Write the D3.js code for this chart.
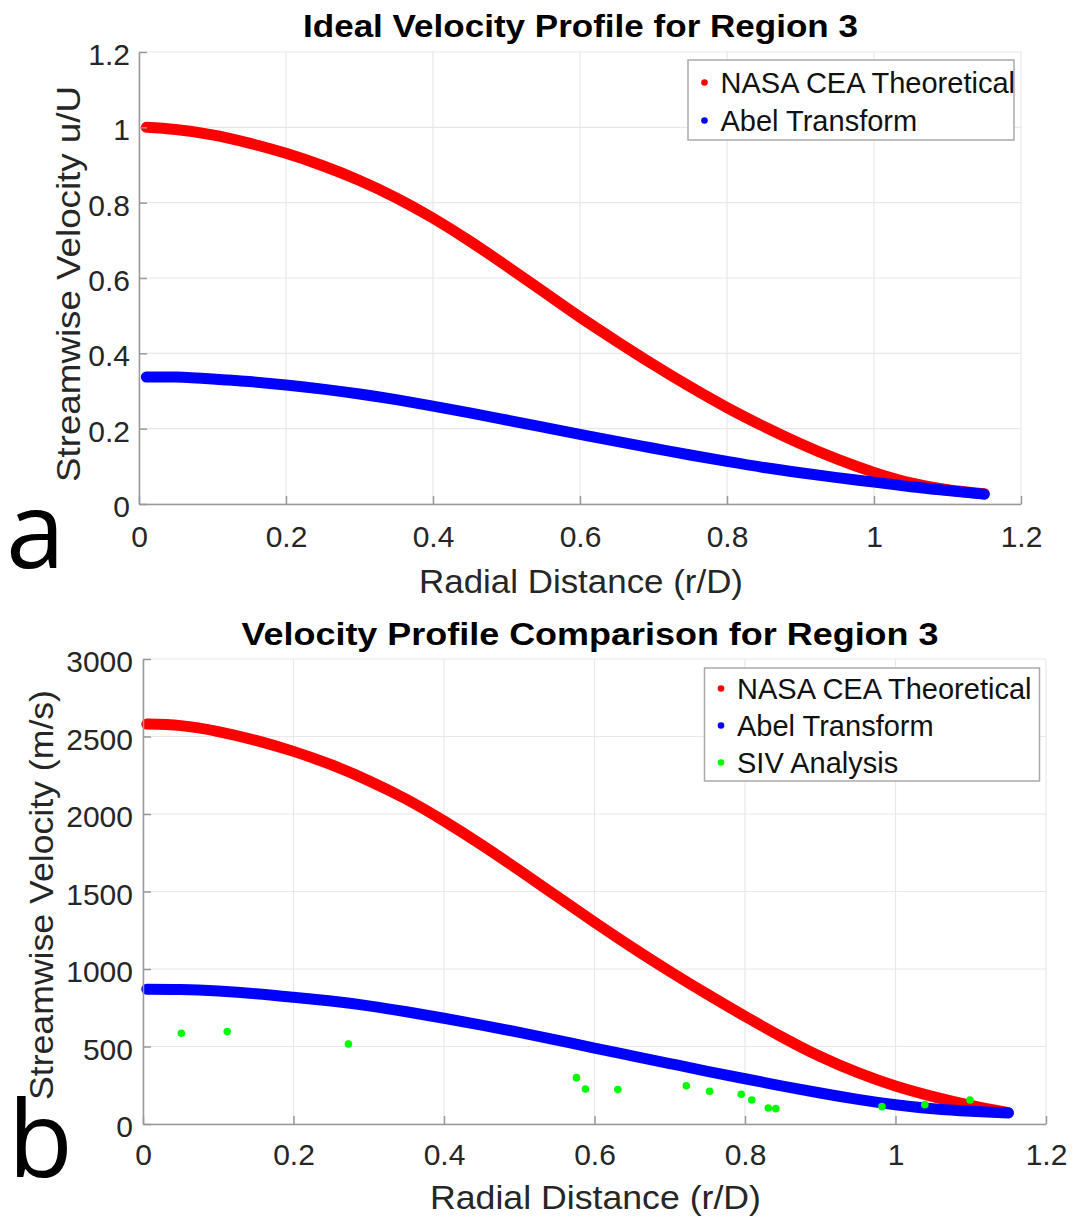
<!DOCTYPE html>
<html>
<head>
<meta charset="utf-8">
<script src="https://cdn.jsdelivr.net/npm/d3@7"></script>
<style>
  html, body { margin: 0; padding: 0; background: #fff; }
  svg { display: block; }
</style>
</head>
<body>
<svg id="fig" width="1077" height="1217"></svg>
<script>
// ---- Panel a: normalised velocity u/U against r/D ----
const radialA = [0.01, 0.05, 0.10, 0.15, 0.20, 0.25, 0.30, 0.35, 0.40, 0.45, 0.50, 0.55,
                 0.60, 0.65, 0.70, 0.75, 0.80, 0.85, 0.90, 0.95, 1.00, 1.05, 1.10, 1.15];
const ceaA  = [1.000, 0.994, 0.980, 0.958, 0.931, 0.898, 0.859, 0.813, 0.759, 0.698, 0.632, 0.564,
               0.496, 0.432, 0.370, 0.311, 0.256, 0.206, 0.160, 0.119, 0.084, 0.056, 0.038, 0.027];
const abelA = [0.337, 0.337, 0.332, 0.325, 0.316, 0.305, 0.292, 0.277, 0.260, 0.242, 0.223, 0.204,
               0.185, 0.166, 0.148, 0.130, 0.113, 0.097, 0.083, 0.070, 0.058, 0.046, 0.036, 0.026];

// ---- Panel b: velocity in m/s against r/D ----
const radialB = [0.005, 0.05, 0.10, 0.15, 0.20, 0.25, 0.30, 0.35, 0.40, 0.45, 0.50, 0.55,
                 0.60, 0.65, 0.70, 0.75, 0.80, 0.85, 0.90, 0.95, 1.00, 1.05, 1.10, 1.15];
const ceaB  = [2580, 2570, 2532, 2475, 2404, 2318, 2215, 2095, 1955, 1801, 1637, 1469,
               1302, 1140, 985, 837, 695, 559, 435, 331, 245, 177, 120, 73];
const abelB = [870, 868, 858, 841, 818, 793, 762, 724, 682, 638, 591, 541,
               490, 440, 390, 340, 292, 245, 200, 159, 124, 98, 82, 71];
const sivR  = [0.051, 0.112, 0.273, 0.576, 0.588, 0.631, 0.722, 0.753, 0.795, 0.809, 0.831, 0.841, 0.982, 1.039, 1.099];
const sivB  = [585, 596, 516, 299, 226, 222, 247, 211, 192, 155, 103, 99, 112, 125, 155];

// ---- Axis ticks ----
const xTicks = [0, 0.2, 0.4, 0.6, 0.8, 1.0, 1.2];
const xTickLabels = ["0", "0.2", "0.4", "0.6", "0.8", "1", "1.2"];
const yTicksA = [0, 0.2, 0.4, 0.6, 0.8, 1.0, 1.2];
const yTickLabelsA = ["0", "0.2", "0.4", "0.6", "0.8", "1", "1.2"];
const yTicksB = [0, 500, 1000, 1500, 2000, 2500, 3000];
const yTickLabelsB = ["0", "500", "1000", "1500", "2000", "2500", "3000"];

const seriesNames = ["NASA CEA Theoretical", "Abel Transform", "SIV Analysis"];
const seriesColors = ["#ff0000", "#0000ff", "#00ff00"];

const FONT = "'Liberation Sans', Arial, Helvetica, sans-serif";
const svg = d3.select("#fig");

function drawPanel(p) {
  const x = d3.scaleLinear().domain([0, 1.2]).range([p.left, p.right]);
  const y = d3.scaleLinear().domain([p.yTicks[0], p.yTicks[p.yTicks.length - 1]]).range([p.bottom, p.top]);
  const g = svg.append("g");

  // grid
  g.append("g").selectAll("line").data(p.xTicks).join("line")
    .attr("x1", d => x(d)).attr("x2", d => x(d))
    .attr("y1", p.top).attr("y2", p.bottom)
    .attr("stroke", "#e8e8e8").attr("stroke-width", 1.2);
  g.append("g").selectAll("line").data(p.yTicks).join("line")
    .attr("x1", p.left).attr("x2", p.right)
    .attr("y1", d => y(d)).attr("y2", d => y(d))
    .attr("stroke", "#e8e8e8").attr("stroke-width", 1.2);

  // series drawn as thick dense-marker curves
  const line = d3.line().x(d => x(d[0])).y(d => y(d[1])).curve(d3.curveNatural);
  p.curves.forEach(c => {
    g.append("path")
      .attr("d", line(d3.zip(c.r, c.v)))
      .attr("fill", "none").attr("stroke", c.color)
      .attr("stroke-width", 11).attr("stroke-linecap", "round").attr("stroke-linejoin", "round");
  });
  if (p.points) {
    g.append("g").selectAll("circle").data(d3.zip(p.points.r, p.points.v)).join("circle")
      .attr("cx", d => x(d[0])).attr("cy", d => y(d[1])).attr("r", 3.8)
      .attr("fill", p.points.color);
  }

  // axes (ticks point inward)
  const ax = g.append("g").attr("transform", `translate(0,${p.bottom})`)
    .call(d3.axisBottom(x).tickValues(p.xTicks).tickFormat((d, i) => p.xLabels[i])
      .tickSizeInner(-8).tickSizeOuter(0).tickPadding(p.xPad));
  const ay = g.append("g").attr("transform", `translate(${p.left},0)`)
    .call(d3.axisLeft(y).tickValues(p.yTicks).tickFormat((d, i) => p.yLabels[i])
      .tickSizeInner(-8).tickSizeOuter(0).tickPadding(p.yPad));
  [ax, ay].forEach(a => {
    a.select(".domain").attr("stroke", "#999").attr("stroke-width", 1.5);
    a.selectAll(".tick line").attr("stroke", "#999").attr("stroke-width", 1.5);
    a.selectAll(".tick text").attr("font-family", FONT).attr("font-size", 30).attr("fill", "#262626");
  });
  ay.selectAll(".tick text").attr("dy", "0.42em");

  // title and axis labels
  g.append("text").text(p.title)
    .attr("x", p.titleX).attr("y", p.titleY).attr("text-anchor", "middle")
    .attr("font-family", FONT).attr("font-weight", "bold").attr("font-size", 32)
    .attr("textLength", p.titleLen).attr("lengthAdjust", "spacingAndGlyphs").attr("fill", "#000");
  g.append("text").text(p.xTitle)
    .attr("x", (p.left + p.right) / 2 + 1).attr("y", p.xTitleY).attr("text-anchor", "middle")
    .attr("font-family", FONT).attr("font-size", 33)
    .attr("textLength", p.xTitleLen).attr("lengthAdjust", "spacingAndGlyphs").attr("fill", "#262626");
  g.append("text").text(p.yTitle)
    .attr("transform", `translate(${p.yTitleX},${p.yTitleCY}) rotate(-90)`)
    .attr("text-anchor", "middle")
    .attr("font-family", FONT).attr("font-size", 33)
    .attr("textLength", p.yTitleLen).attr("lengthAdjust", "spacingAndGlyphs").attr("fill", "#262626");

  // legend
  const L = p.legend;
  g.append("rect").attr("x", L.x).attr("y", L.y).attr("width", L.w).attr("height", L.h)
    .attr("fill", "#fff").attr("stroke", "#aaa").attr("stroke-width", 1.5);
  L.names.forEach((n, i) => {
    const base = L.firstBaseline + i * L.step;
    g.append("circle").attr("cx", L.x + 16.5).attr("cy", base - 10.5).attr("r", 3.3).attr("fill", L.colors[i]);
    g.append("text").text(n).attr("x", L.x + 32.5).attr("y", base)
      .attr("font-family", FONT).attr("font-size", 29).attr("fill", "#111");
  });

  // panel letter
  g.append("text").text(p.letter).attr("x", p.letterX).attr("y", p.letterY)
    .attr("font-family", "'Open Sans', 'Noto Sans', sans-serif").attr("font-size", 106).attr("fill", "#000");
}

drawPanel({
  left: 139, right: 1021, top: 52, bottom: 504,
  xTicks, xLabels: xTickLabels, yTicks: yTicksA, yLabels: yTickLabelsA, xPad: 22, yPad: 9,
  curves: [{ r: radialA, v: ceaA, color: seriesColors[0] }, { r: radialA, v: abelA, color: seriesColors[1] }],
  title: "Ideal Velocity Profile for Region 3", titleX: 580.5, titleY: 37, titleLen: 555,
  xTitle: "Radial Distance (r/D)", xTitleY: 593, xTitleLen: 324,
  yTitle: "Streamwise Velocity u/U", yTitleX: 80, yTitleCY: 284, yTitleLen: 396,
  legend: { x: 688, y: 60, w: 326, h: 80, firstBaseline: 93, step: 38,
            names: seriesNames.slice(0, 2), colors: seriesColors.slice(0, 2) },
  letter: "a", letterX: 6, letterY: 568
});

drawPanel({
  left: 143, right: 1046, top: 659, bottom: 1124,
  xTicks, xLabels: xTickLabels, yTicks: yTicksB, yLabels: yTickLabelsB, xPad: 20, yPad: 10,
  curves: [{ r: radialB, v: ceaB, color: seriesColors[0] }, { r: radialB, v: abelB, color: seriesColors[1] }],
  points: { r: sivR, v: sivB, color: seriesColors[2] },
  title: "Velocity Profile Comparison for Region 3", titleX: 590, titleY: 645, titleLen: 697,
  xTitle: "Radial Distance (r/D)", xTitleY: 1209, xTitleLen: 331,
  yTitle: "Streamwise Velocity (m/s)", yTitleX: 53, yTitleCY: 895, yTitleLen: 410,
  legend: { x: 704.5, y: 668, w: 335, h: 113, firstBaseline: 699, step: 37,
            names: seriesNames, colors: seriesColors },
  letter: "b", letterX: 8, letterY: 1177
});
</script>
</body>
</html>
